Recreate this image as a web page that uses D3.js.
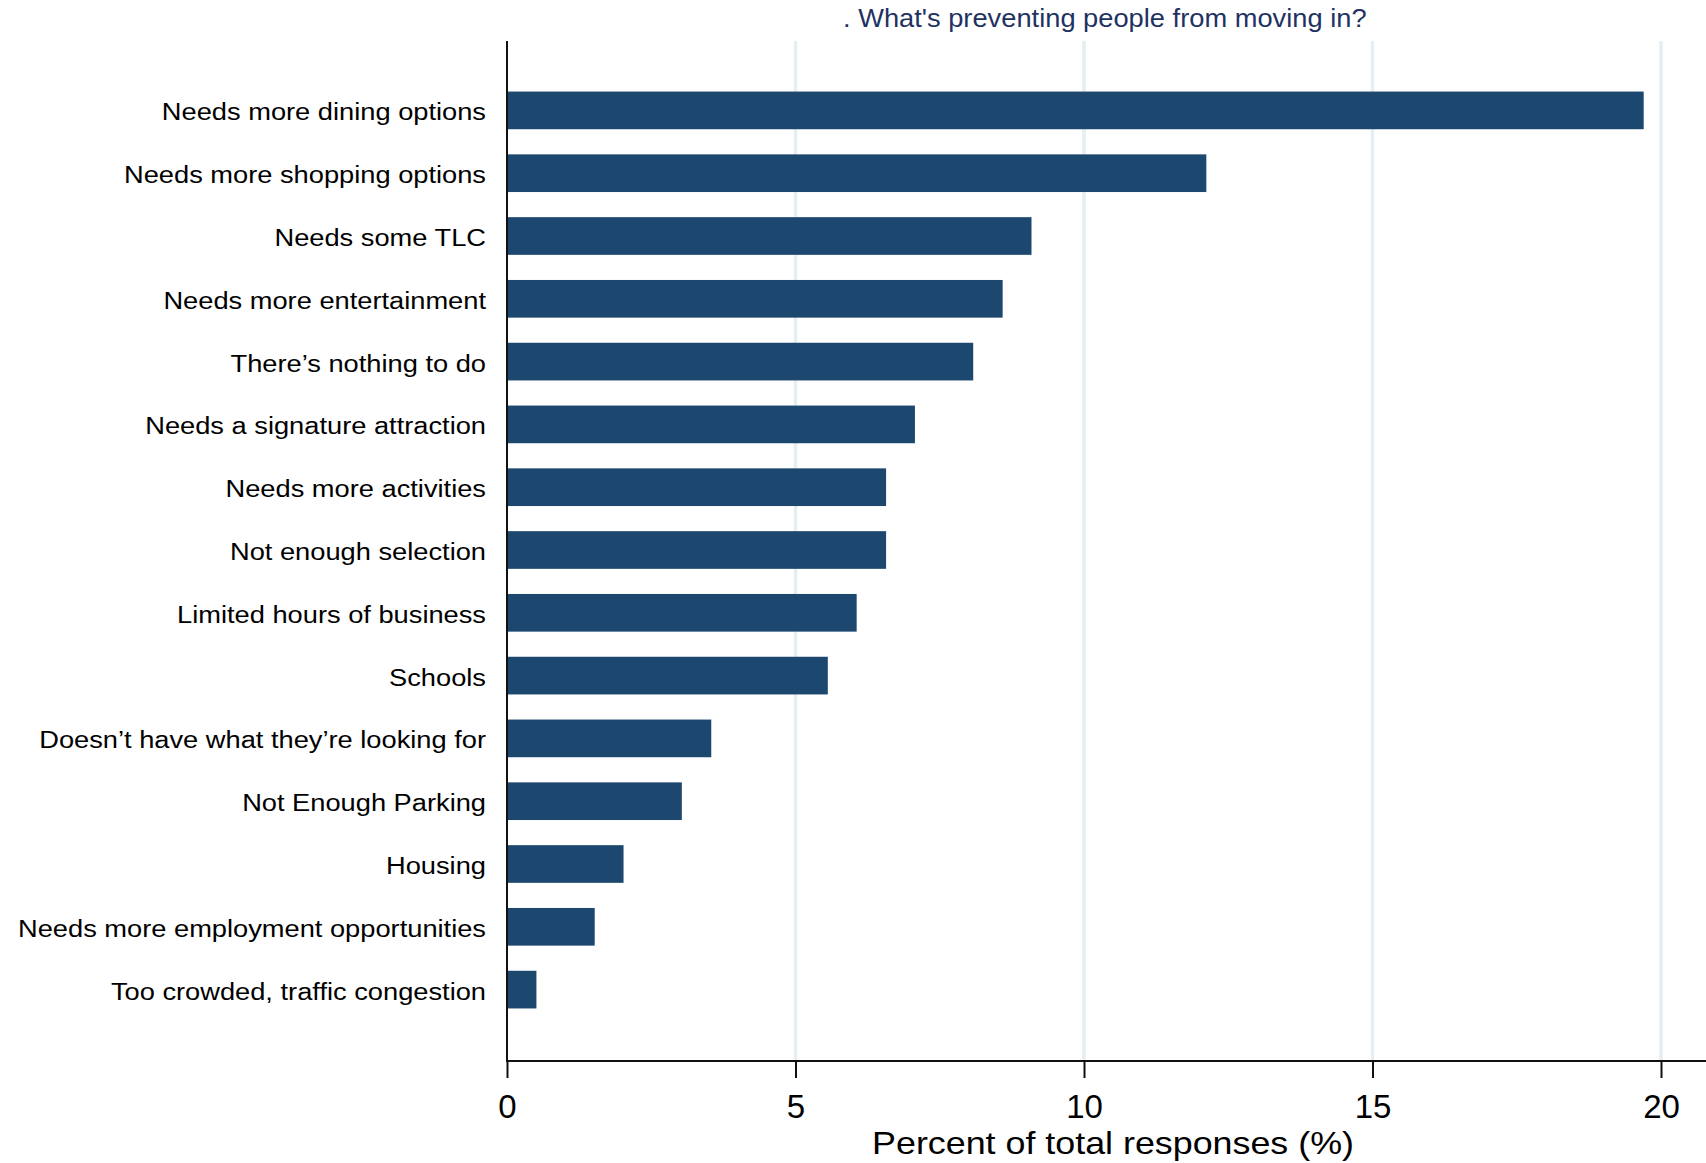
<!DOCTYPE html>
<html>
<head>
<meta charset="utf-8">
<script src="https://cdn.jsdelivr.net/npm/d3@7"></script>
<style>
  html, body { margin: 0; padding: 0; background: #ffffff; }
  svg { display: block; font-family: "Liberation Sans", Arial, Helvetica, sans-serif; }
</style>
</head>
<body>
<svg id="chart" width="1706" height="1163"></svg>
<script>
const categories = [
  "Needs more dining options",
  "Needs more shopping options",
  "Needs some TLC",
  "Needs more entertainment",
  "There\u2019s nothing to do",
  "Needs a signature attraction",
  "Needs more activities",
  "Not enough selection",
  "Limited hours of business",
  "Schools",
  "Doesn\u2019t have what they\u2019re looking for",
  "Not Enough Parking",
  "Housing",
  "Needs more employment opportunities",
  "Too crowded, traffic congestion"
];
const percents = [19.70, 12.12, 9.09, 8.59, 8.08, 7.07, 6.57, 6.57, 6.06, 5.56, 3.54, 3.03, 2.02, 1.52, 0.51];
const xTicks = [0, 5, 10, 15, 20];
const titleText = ". What's preventing people from moving in?";
const xAxisTitle = "Percent of total responses (%)";

const svg = d3.select("#chart");
const plotTop = 41, plotBottom = 1061, plotLeft = 507, axisRight = 1706;

const x = d3.scaleLinear().domain([0, 20]).range([507, 1661]);
const y = d3.scaleBand().domain(categories).range([79, 1021]).paddingInner(0.4).paddingOuter(0.2);

// gridlines
svg.append("g").selectAll("line").data(xTicks.filter(d => d > 0)).join("line")
  .attr("x1", d => x(d)).attr("x2", d => x(d))
  .attr("y1", plotTop).attr("y2", plotBottom)
  .attr("stroke", "#e6eef1").attr("stroke-width", 3.5);

// bars
svg.append("g").selectAll("rect").data(categories).join("rect")
  .attr("x", x(0))
  .attr("y", d => y(d))
  .attr("width", (d, i) => x(percents[i]) - x(0))
  .attr("height", y.bandwidth())
  .attr("fill", "#1c4870");

// y axis labels
const yAxis = svg.append("g").attr("transform", `translate(${plotLeft},0)`)
  .call(d3.axisLeft(y).tickSize(0).tickPadding(21));
yAxis.select(".domain").remove();
yAxis.selectAll("text")
  .attr("x", null).attr("dy", null)
  .attr("transform", "translate(-21,10) scale(1.16,1)")
  .attr("text-anchor", "end")
  .attr("font-size", "23.5px")
  .attr("font-family", "'Liberation Sans', Arial, sans-serif")
  .attr("fill", "#000");

// x axis
const xAxis = svg.append("g").attr("transform", `translate(0,${plotBottom})`)
  .call(d3.axisBottom(x).tickValues(xTicks).tickSize(17).tickPadding(17).tickFormat(d3.format("d")));
xAxis.select(".domain").remove();
xAxis.selectAll(".tick line").attr("stroke", "#111").attr("stroke-width", 2);
xAxis.selectAll("text")
  .attr("font-size", "33px")
  .attr("font-family", "'Liberation Sans', Arial, sans-serif")
  .attr("fill", "#000");

// axis lines
svg.append("line").attr("x1", plotLeft).attr("x2", plotLeft)
  .attr("y1", plotTop).attr("y2", plotBottom + 1)
  .attr("stroke", "#111").attr("stroke-width", 2);
svg.append("line").attr("x1", plotLeft - 1).attr("x2", axisRight)
  .attr("y1", plotBottom).attr("y2", plotBottom)
  .attr("stroke", "#111").attr("stroke-width", 2);

// x axis title
svg.append("text")
  .attr("transform", "translate(1113,1154) scale(1.175,1)")
  .attr("text-anchor", "middle")
  .attr("font-size", "30.5px")
  .attr("fill", "#000")
  .text(xAxisTitle);

// chart title
svg.append("text")
  .attr("transform", "translate(843,27) scale(1.07,1)")
  .attr("text-anchor", "start")
  .attr("font-size", "25.5px")
  .attr("fill", "#1f3262")
  .text(titleText);
</script>
</body>
</html>
